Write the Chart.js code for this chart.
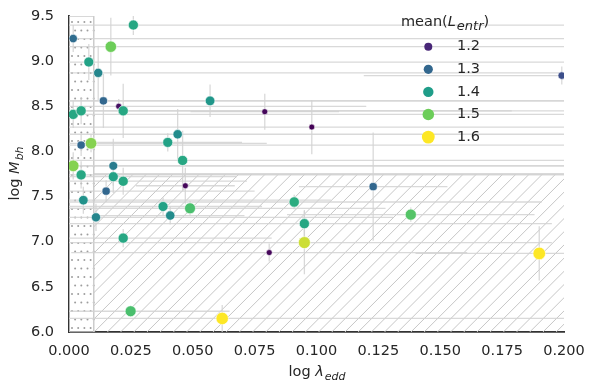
<!DOCTYPE html>
<html>
<head>
<meta charset="utf-8">
<script src="https://cdn.jsdelivr.net/npm/chart.js@4.4.0/dist/chart.umd.min.js"></script>
<style>
body{margin:0;background:#fff;}
</style>
</head>
<body>
<canvas id="myChart" width="593" height="389"></canvas>
<script>
//data
const lamEdd = [0.0260,0.0017,0.0169,0.0080,0.0118,0.0139,0.0201,0.0219,0.0017,0.0049,
	0.0570,0.0791,0.0981,0.1991,0.0439,0.0399,0.0089,0.0049,0.0459,0.0017,
	0.0179,0.0049,0.0179,0.0219,0.0470,0.0150,0.0058,0.0380,0.0489,0.0409,
	0.0109,0.0910,0.1229,0.0951,0.1381,0.0951,0.0809,0.0219,0.0249,0.0619,0.1900];
const logMbh = [9.40,9.25,9.16,8.99,8.87,8.56,8.50,8.45,8.41,8.45,
	8.56,8.44,8.27,8.84,8.19,8.10,8.09,8.07,7.90,7.84,
	7.84,7.74,7.72,7.67,7.62,7.56,7.46,7.39,7.37,7.29,
	7.27,7.44,7.61,7.20,7.30,6.99,6.88,7.04,6.23,6.15,6.87];
const xErr = [0.20,0.20,0.20,0.20,0.20,0.20,0.10,0.157,0.20,0.20,
	0.20,0.03,0.11,0.08,0.20,0.03,0.071,0.20,0.16,0.20,
	0.20,0.20,0.05,0.05,0.02,0.06,0.10,0.04,0.079,0.03,
	0.12,0.10,0.03,0.10,0.05,0.10,0.08,0.06,0.04,0.15,0.05];
const yErr = [0.11,0.15,0.32,0.20,0.30,0.30,0.08,0.30,0.15,0.15,
	0.18,0.20,0.30,0.10,0.28,0.10,0.10,0.12,0.33,0.15,
	0.30,0.15,0.10,0.15,0.20,0.12,0.15,0.10,0.08,0.10,
	0.15,0.08,0.60,0.15,0.08,0.35,0.10,0.10,0.05,0.15,0.30];
const lEntr = [1.42,1.31,1.50,1.41,1.36,1.30,1.17,1.42,1.42,1.42,
	1.39,1.16,1.155,1.26,1.37,1.41,1.51,1.30,1.42,1.51,
	1.34,1.42,1.41,1.42,1.16,1.30,1.38,1.41,1.47,1.37,
	1.36,1.43,1.30,1.42,1.48,1.535,1.16,1.42,1.47,1.56,1.57];

const xTicks = [0,0.025,0.05,0.075,0.1,0.125,0.15,0.175,0.2];
const yTicks = [6.0,6.5,7.0,7.5,8.0,8.5,9.0,9.5];
const legendValues = [1.2,1.3,1.4,1.5,1.6];
const hueRange = [1.152,1.552];
//shaded zones
const dotZoneX = [0,0.01];
const hatchZoneX = [0.01,0.2];
const hatchZoneTop = 7.75;

const FONT = '"DejaVu Sans"';
const TEXT = '#262626';

//viridis colormap
const viridis = ['#440154','#482878','#3e4989','#31688e','#26828e','#1f9e89','#35b779','#6ece58','#fde725'];
function hex2rgb(h){ return [1,3,5].map(i=>parseInt(h.substr(i,2),16)); }
function hueColor(v){
	let t = (v-hueRange[0])/(hueRange[1]-hueRange[0]);
	t = Math.max(0,Math.min(1,t));
	const p = t*(viridis.length-1);
	const i = Math.min(Math.floor(p),viridis.length-2);
	const f = p-i;
	const a = hex2rgb(viridis[i]), b = hex2rgb(viridis[i+1]);
	const c = a.map((q,k)=>Math.round(q+(b[k]-q)*f));
	return `rgb(${c[0]},${c[1]},${c[2]})`;
}
function pointSize(v){ return 3 + 8*(v-1.16); }
function legendSize(v){ return 4 + 6*(v-1.2); }

//text with italic / subscript parts : [text, italic, sub]
function partFont(p,size,sub){ return (p[1]?'italic ':'') + (p[2]? Math.round(size*sub) : size) + 'px ' + FONT; }
function drawRich(ctx,parts,x,y,align,size,sub){
	sub = sub || 0.75;
	let w = 0;
	parts.forEach(p=>{ ctx.font = partFont(p,size,sub); w += ctx.measureText(p[0]).width; });
	let cx = align=='center' ? x-w/2 : x;
	ctx.textAlign = 'left';
	ctx.textBaseline = 'alphabetic';
	parts.forEach(p=>{
		ctx.font = partFont(p,size,sub);
		ctx.fillText(p[0], cx, y + (p[2] ? size*0.25 : 0));
		cx += ctx.measureText(p[0]).width + (p[1] && !p[2] ? 1 : 0);
	});
}

//zones + error bars
const backdrop = {
	id:'backdrop',
	beforeDatasetsDraw(chart){
		const {ctx, chartArea:a, scales:{x,y}} = chart;
		ctx.save();
		ctx.beginPath(); ctx.rect(a.left,a.top,a.width,a.height); ctx.clip();

		//dotted zone
		const dx0 = x.getPixelForValue(dotZoneX[0]), dx1 = x.getPixelForValue(dotZoneX[1]);
		ctx.fillStyle = '#9e9e9e';
		let row = 0;
		for(let py = a.bottom-4; py > a.top; py -= 8.5){
			for(let px = dx0 + 3 + (row%2)*3.1; px < dx1; px += 6.2){
				ctx.beginPath(); ctx.arc(px,py,1,0,Math.PI*2); ctx.fill();
			}
			row++;
		}
		ctx.strokeStyle = '#cccccc'; ctx.lineWidth = 1.5;
		ctx.strokeRect(dx0, a.top, dx1-dx0, a.bottom-a.top);

		//hatched zone
		const hx0 = x.getPixelForValue(hatchZoneX[0]), hx1 = x.getPixelForValue(hatchZoneX[1]);
		const hy0 = y.getPixelForValue(hatchZoneTop);
		ctx.save();
		ctx.beginPath(); ctx.rect(hx0, hy0, hx1-hx0, a.bottom-hy0); ctx.clip();
		ctx.strokeStyle = '#c6c6c6'; ctx.lineWidth = 1;
		const h = a.bottom-hy0;
		for(let k = hx0-h; k < hx1; k += 13.2){
			ctx.beginPath(); ctx.moveTo(k, a.bottom); ctx.lineTo(k+h, hy0); ctx.stroke();
		}
		ctx.restore();
		ctx.strokeStyle = '#cccccc'; ctx.lineWidth = 1.5;
		ctx.beginPath(); ctx.moveTo(hx0, hy0); ctx.lineTo(hx1, hy0); ctx.stroke();

		//error bars
		ctx.strokeStyle = 'rgba(210,210,210,0.85)'; ctx.lineWidth = 1.3;
		lamEdd.forEach((v,i)=>{
			const px = x.getPixelForValue(v), py = y.getPixelForValue(logMbh[i]);
			ctx.beginPath();
			ctx.moveTo(x.getPixelForValue(v-xErr[i]), py);
			ctx.lineTo(x.getPixelForValue(v+xErr[i]), py);
			ctx.moveTo(px, y.getPixelForValue(logMbh[i]-yErr[i]));
			ctx.lineTo(px, y.getPixelForValue(logMbh[i]+yErr[i]));
			ctx.stroke();
		});
		ctx.restore();
	}
};

//axis titles + legend
const labels = {
	id:'labels',
	afterDraw(chart){
		const {ctx, chartArea:a} = chart;
		ctx.save();
		ctx.fillStyle = TEXT;
		drawRich(ctx, [['log ',0,0],['λ',1,0],['edd',1,1]], (a.left+a.right)/2, 376, 'center', 14.5);
		ctx.save();
		ctx.translate(19,(a.top+a.bottom)/2);
		ctx.rotate(-Math.PI/2);
		drawRich(ctx, [['log ',0,0],['M',1,0],['bh',1,1]], 0, 0, 'center', 14.5);
		ctx.restore();

		//legend
		drawRich(ctx, [['mean(',0,0],['L',1,0],['entr',1,1],[')',0,0]], 401, 26, 'left', 14.5, 0.9);
		legendValues.forEach((v,i)=>{
			const cy = 46.7 + i*22.6;
			ctx.fillStyle = hueColor(v);
			ctx.beginPath(); ctx.arc(428.3, cy, legendSize(v), 0, Math.PI*2); ctx.fill();
			ctx.fillStyle = TEXT;
			ctx.font = '14.5px ' + FONT;
			ctx.textAlign = 'left'; ctx.textBaseline = 'middle';
			ctx.fillText(v.toFixed(1), 457, cy);
		});
		ctx.restore();
	}
};

const ctx = document.getElementById('myChart');

new Chart(ctx, {
	type: 'scatter',
	data: {
		datasets: [{
			data: lamEdd.map((v,i)=>({x:v, y:logMbh[i]})),
			pointBackgroundColor: lEntr.map(hueColor),
			pointBorderColor: '#ffffff',
			pointBorderWidth: 0.6,
			pointRadius: lEntr.map(pointSize),
			pointHoverRadius: lEntr.map(pointSize),
			clip: 0
		}]
	},
	options: {
		responsive: false,
		animation: false,
		devicePixelRatio: 1,
		layout: { padding: {top:16, right:29, left:0, bottom:0} },
		plugins: { legend:{display:false}, tooltip:{enabled:false} },
		scales: {
			x: {
				type: 'linear', min: 0, max: 0.2,
				afterBuildTicks: s => { s.ticks = xTicks.map(v=>({value:v})); },
				afterFit: s => { s.height = 57; s.paddingLeft = 0; s.paddingRight = 0; },
				grid: { display:false, drawTicks:false },
				border: { display:true, color:'#333333', width:1.8 },
				ticks: { color:TEXT, padding:11, maxRotation:0, autoSkip:false,
					font:{family:FONT, size:14.5}, callback: v => Number(v).toFixed(3) }
			},
			y: {
				type: 'linear', min: 6, max: 9.5,
				afterBuildTicks: s => { s.ticks = yTicks.map(v=>({value:v})); },
				afterFit: s => { s.width = 69; s.paddingTop = 0; s.paddingBottom = 0; },
				grid: { display:false, drawTicks:false },
				border: { display:true, color:'#333333', width:1.8 },
				ticks: { color:TEXT, padding:15, autoSkip:false,
					font:{family:FONT, size:14.5}, callback: v => Number(v).toFixed(1) }
			}
		}
	},
	plugins: [backdrop, labels]
});
</script>
</body>
</html>
